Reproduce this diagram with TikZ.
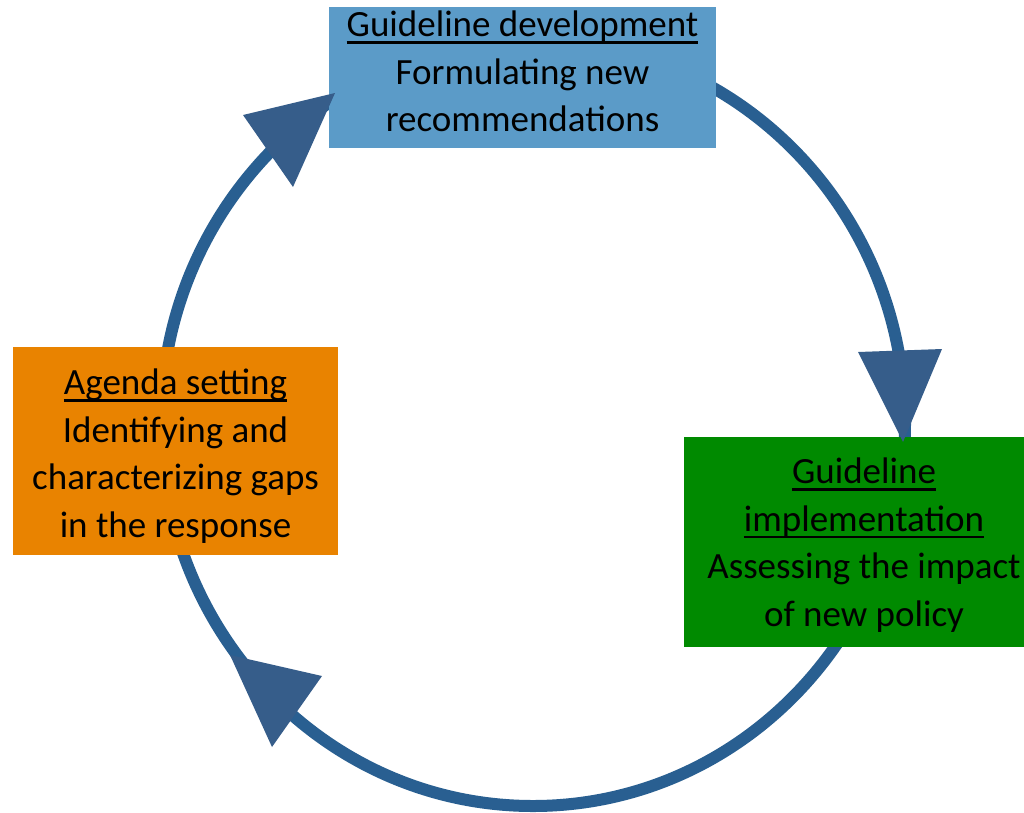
\documentclass[tikz,border=0pt]{standalone}
\usepackage{fontspec}
\setmainfont{Carlito}
\definecolor{ringblue}{RGB}{41,95,145}
\definecolor{headblue}{RGB}{54,93,138}
\definecolor{devblue}{RGB}{91,155,200}
\definecolor{agorange}{RGB}{233,131,0}
\definecolor{impgreen}{RGB}{0,138,0}
\newsavebox\myulbox
\newcommand\myul[1]{\sbox\myulbox{#1}\rlap{\rule[-7pt]{\wd\myulbox}{2.6pt}}\usebox\myulbox}
\begin{document}
\begin{tikzpicture}[x=1pt,y=-1pt,
  stagebox/.style={rectangle, inner sep=0pt},
  stagetext/.style={inner sep=0pt, align=center,
    font=\fontsize{37}{47.5}\selectfont, text=black},
  ring/.style={draw=ringblue, line width=12pt},
  head/.style={fill=headblue}]
\useasboundingbox (0,0) rectangle (1024,812);
% cycle ring
\path[ring] (533,423) ellipse [x radius=372pt, y radius=383pt];
% stages
\node[stagebox, fill=devblue, minimum width=387pt, minimum height=141pt] (dev) at (522.5,77.5) {};
\node[stagetext] (devtext) at ([yshift=6pt]dev.center)
  {\myul{Guideline development}\\Formulating new\\recommendations};
\node[stagebox, fill=agorange, minimum width=325pt, minimum height=208pt] (agenda) at (175.5,451) {};
\node[stagetext] (agendatext) at ([yshift=-5pt]agenda.center)
  {\myul{Agenda setting}\\Identifying and\\characterizing gaps\\in the response};
\node[stagebox, fill=impgreen, minimum width=360pt, minimum height=210pt] (impl) at (864,542) {};
\node[stagetext] (impltext) at ([yshift=-3pt]impl.center)
  {\myul{Guideline}\\\myul{implementation}\\Assessing the impact\\of new policy};
% arrowheads
\fill[head] (243,115) -- (335,93) -- (293,187) -- cycle;
\fill[head] (858,352) -- (942,349) -- (903,442) -- cycle;
\fill[head] (230,655) -- (322,676) -- (272,747) -- cycle;
\end{tikzpicture}
\end{document}
